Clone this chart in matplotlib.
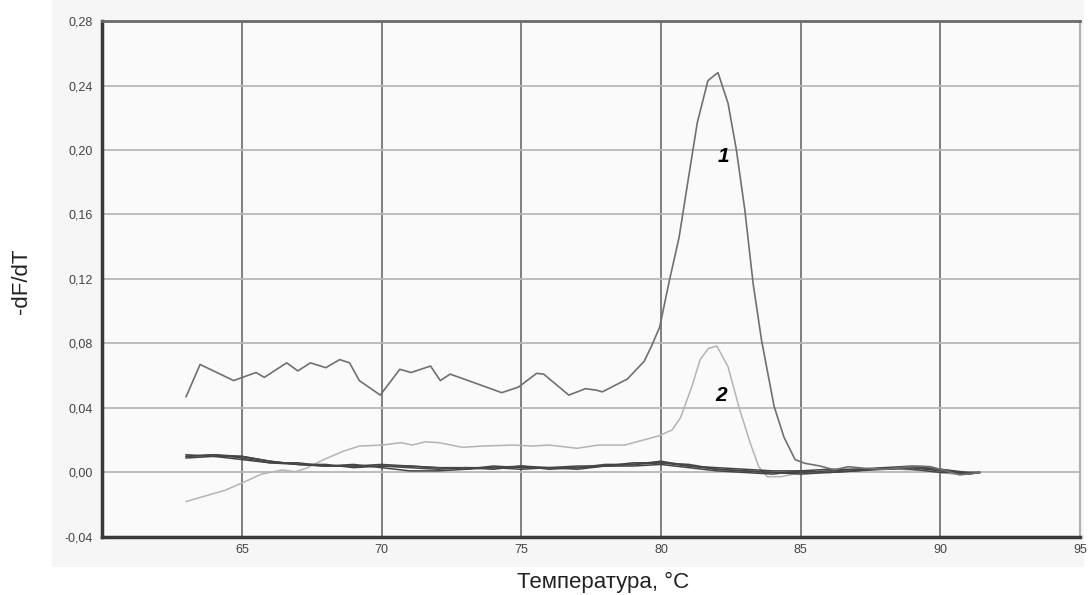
import matplotlib
matplotlib.use("Agg")
import matplotlib.pyplot as plt
from matplotlib.patches import Rectangle
from matplotlib.ticker import FuncFormatter, MultipleLocator

plt.rcParams["font.family"] = ["Liberation Sans", "DejaVu Sans"]

# %% Data

# curve 1
T1 = [63.0, 63.5, 64.7, 65.5, 65.8, 66.6, 67.0, 67.45, 68.0, 68.5, 68.85,
      69.2, 69.95, 70.65, 71.05, 71.75, 72.1, 72.45, 73.1, 74.3, 74.9,
      75.55, 75.8, 76.7, 77.3, 77.7, 77.9, 78.8, 79.4, 79.65, 79.95, 80.3,
      80.65, 80.95, 81.3, 81.68, 82.04, 82.4, 82.7, 83.0, 83.3, 83.6,
      84.05, 84.4, 84.8, 85.15, 85.7, 86.2, 86.7, 87.3, 88.0, 88.6, 89.2,
      89.65, 90.2, 90.7, 91.4]
Y1 = [0.047, 0.067, 0.057, 0.062, 0.059, 0.068, 0.063, 0.068, 0.065,
      0.070, 0.068, 0.057, 0.048, 0.064, 0.062, 0.066, 0.057, 0.061, 0.057,
      0.0495, 0.053, 0.0615, 0.061, 0.048, 0.052, 0.051, 0.050, 0.058,
      0.069, 0.078, 0.090, 0.119, 0.146, 0.179, 0.217, 0.243, 0.248, 0.229,
      0.200, 0.163, 0.117, 0.082, 0.041, 0.022, 0.008, 0.0057, 0.004,
      0.0016, 0.0036, 0.0026, 0.002, 0.003, 0.004, 0.0036, 0.001, -0.0015,
      0.000]

# curve 2
T2 = [63.0, 63.6, 64.4, 65.1, 65.7, 66.45, 66.9, 67.3, 67.9, 68.6, 69.2,
      70.0, 70.7, 71.1, 71.55, 72.05, 72.9, 73.6, 74.7, 75.4, 76.0, 77.0,
      77.75, 78.7, 79.9, 80.4, 80.7, 81.1, 81.4, 81.7, 82.0, 82.4, 82.8,
      83.2, 83.5, 83.8, 84.3, 84.9, 85.5, 86.5, 87.5, 88.5, 89.5, 90.5,
      91.4]
Y2 = [-0.018, -0.015, -0.011, -0.0057, -0.001, 0.0016, 0.0005, 0.0026,
      0.0078, 0.013, 0.0164, 0.017, 0.0185, 0.017, 0.019, 0.0185, 0.0156,
      0.0164, 0.017, 0.0164, 0.017, 0.015, 0.017, 0.017, 0.0226, 0.0264,
      0.034, 0.053, 0.070, 0.077, 0.0784, 0.0656, 0.040, 0.018, 0.0036,
      -0.0026, -0.0026, -0.0005, 0.000, 0.001, 0.002, 0.002, 0.001, -0.001,
      0.000]

# negative samples (flat cluster near zero)
TB = [63, 64, 65, 66, 67, 68, 69, 70, 71, 72, 73, 74, 75, 76, 77, 78, 79,
      80, 81, 82, 83, 84, 85, 86, 87, 88, 89, 90, 91, 91.4]
YB_A = [0.010, 0.011, 0.009, 0.006, 0.005, 0.004, 0.004, 0.004, 0.003,
        0.002, 0.003, 0.003, 0.004, 0.002, 0.003, 0.004, 0.005, 0.006,
        0.004, 0.002, 0.001, 0.000, 0.000, 0.001, 0.002, 0.002, 0.003,
        0.001, -0.001, 0.000]
YB_B = [0.009, 0.010, 0.010, 0.007, 0.005, 0.005, 0.003, 0.004, 0.004,
        0.003, 0.002, 0.004, 0.003, 0.003, 0.002, 0.004, 0.004, 0.005,
        0.003, 0.001, 0.000, -0.001, 0.001, 0.000, 0.001, 0.003, 0.002,
        0.000, 0.000, 0.000]
YB_C = [0.011, 0.010, 0.008, 0.006, 0.006, 0.004, 0.005, 0.003, 0.001,
        0.001, 0.002, 0.003, 0.002, 0.003, 0.004, 0.004, 0.006, 0.006,
        0.005, 0.002, 0.001, 0.000, -0.001, 0.000, 0.001, 0.002, 0.003,
        0.002, -0.001, 0.000]
YB_D = [0.010, 0.011, 0.010, 0.007, 0.005, 0.004, 0.004, 0.005, 0.004,
        0.003, 0.003, 0.002, 0.004, 0.003, 0.003, 0.005, 0.005, 0.007,
        0.004, 0.003, 0.002, 0.001, 0.001, 0.002, 0.002, 0.003, 0.004,
        0.002, 0.000, 0.000]

XTICKS = [65, 70, 75, 80, 85, 90, 95]

# %% Plot

fig = plt.figure(figsize=(10.92, 5.95), dpi=100)
fig.patches.append(
    Rectangle((0.0476, 0.047), 0.945, 0.953, transform=fig.transFigure,
              facecolor="#f6f6f6", edgecolor="none", zorder=-10)
)
ax = fig.add_axes([0.0937, 0.0975, 0.8953, 0.8672])
ax.set_facecolor("#fafafa")

for yb in [YB_A, YB_B, YB_C, YB_D]:
    ax.plot(TB, yb, color="#454545", lw=1.1, zorder=3)
ax.plot(T2, Y2, color="#b4b4b4", lw=1.1, zorder=2)
ax.plot(T1, Y1, color="#707070", lw=1.2, zorder=4)

ax.text(82.22, 0.1957, "1", fontsize=15, fontweight="bold",
        fontstyle="italic", ha="center", va="center", zorder=5)
ax.text(82.16, 0.048, "2", fontsize=15, fontweight="bold",
        fontstyle="italic", ha="center", va="center", zorder=5)

ax.set_xlim(60, 95)
ax.set_ylim(-0.04, 0.28)
ax.set_xticks(XTICKS)
ax.yaxis.set_major_locator(MultipleLocator(0.04))
ax.yaxis.set_major_formatter(
    FuncFormatter(lambda v, _: f"{v:.2f}".replace(".", ","))
)

for x in XTICKS[:-1]:
    ax.axvline(x, color="#6a6a6a", lw=1.2, zorder=1)
for y in [0.0, 0.04, 0.08, 0.12, 0.16, 0.20, 0.24]:
    ax.axhline(y, color="#b8b8b8", lw=1.3, zorder=1)

ax.tick_params(length=0, labelsize=9, labelcolor="#444444")
ax.tick_params(axis="y", pad=7)
ax.tick_params(axis="x", pad=5)

ax.spines["left"].set_color("#3a3a3a")
ax.spines["left"].set_linewidth(2.5)
ax.spines["bottom"].set_color("#3a3a3a")
ax.spines["bottom"].set_linewidth(2.5)
ax.spines["top"].set_color("#6a6a6a")
ax.spines["top"].set_linewidth(2)
ax.spines["right"].set_color("#b0b0b0")
ax.spines["right"].set_linewidth(1.5)

fig.text(22 / 1092, 1 - 281 / 595, "-dF/dT", rotation=90, fontsize=16,
         ha="center", va="center", color="#222222")
fig.text(603 / 1092, 1 - 582 / 595, "Температура, °C", fontsize=16,
         ha="center", va="center", color="#222222")

fig.savefig("out.png", dpi=100)
